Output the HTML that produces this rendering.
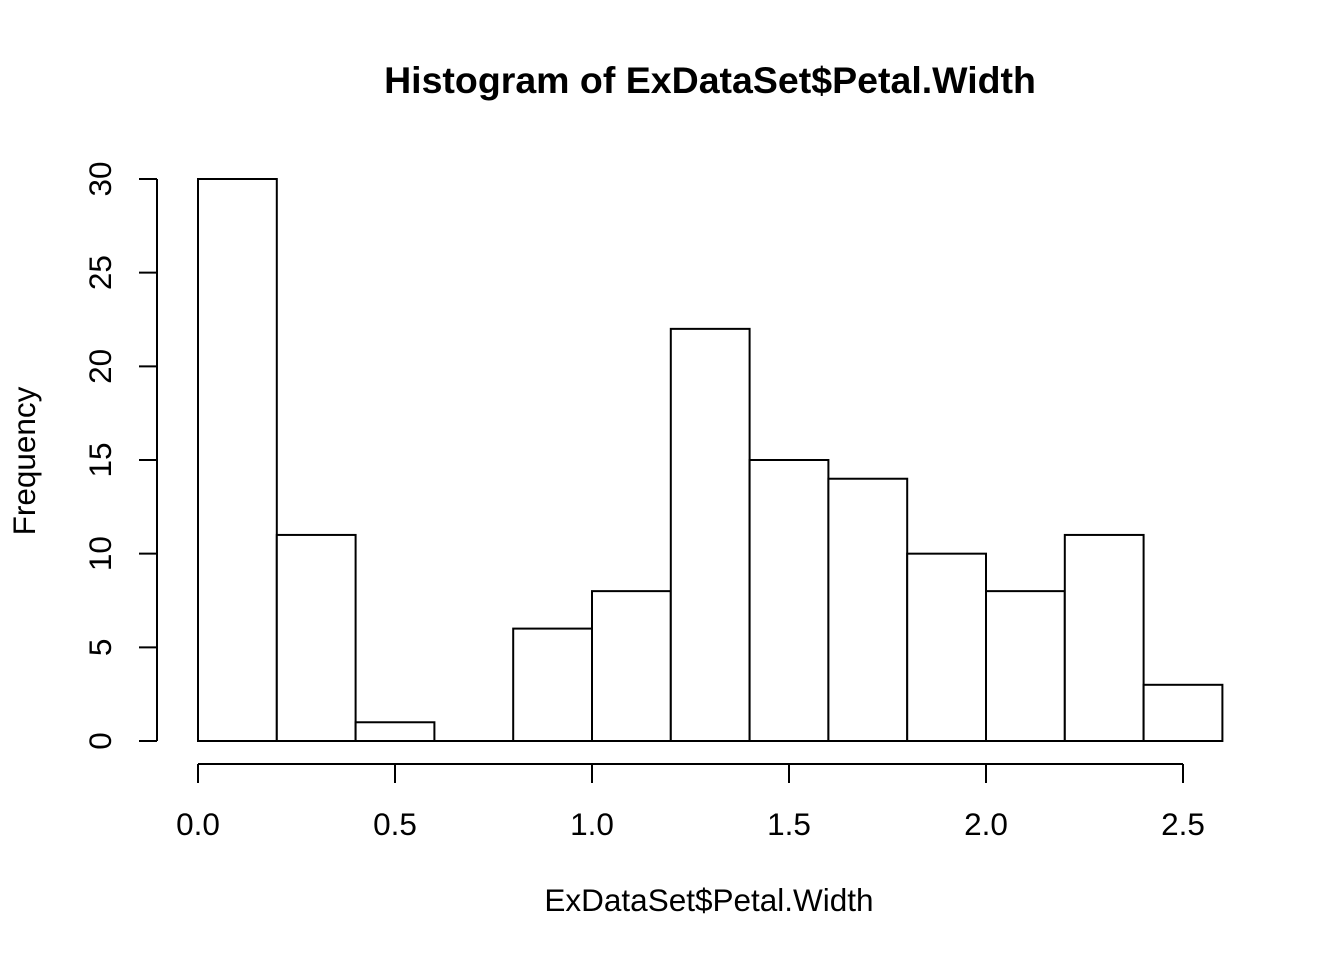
<!DOCTYPE html>
<html><head><meta charset="utf-8"><style>
html,body{margin:0;padding:0;background:#fff;}
svg{display:block;font-family:"Liberation Sans",Arial,sans-serif;}
</style></head><body>
<svg id="chart" width="1344" height="960" viewBox="0 0 1344 960" xmlns="http://www.w3.org/2000/svg">
<text x="710" y="93" text-anchor="middle" font-size="37.5" font-weight="bold">Histogram of ExDataSet$Petal.Width</text>
<text x="709" y="911" text-anchor="middle" font-size="31.5">ExDataSet$Petal.Width</text>
<text transform="translate(35,461) rotate(-90)" text-anchor="middle" font-size="31.5">Frequency</text>
<g id="bars"></g>
<g id="xaxis"></g>
<g id="yaxis"></g>
</svg>
<script>
const binStarts = [0.0,0.2,0.4,0.6,0.8,1.0,1.2,1.4,1.6,1.8,2.0,2.2,2.4];
const counts = [30,11,1,0,6,8,22,15,14,10,8,11,3];
const binWidth = 0.2;
const xTicks = [0.0,0.5,1.0,1.5,2.0,2.5];
const xTickLabels = ["0.0","0.5","1.0","1.5","2.0","2.5"];
const yTicks = [0,5,10,15,20,25,30];
const yTickLabels = ["0","5","10","15","20","25","30"];

const NS = "http://www.w3.org/2000/svg";
function xs(v){return 198 + v*394;}
function ys(v){return 741 - v*(562/30);}
function mk(tag, attrs, parent){
  const e=document.createElementNS(NS,tag);
  for(const k in attrs) e.setAttribute(k,attrs[k]);
  parent.appendChild(e); return e;
}
const bars=document.getElementById('bars');
binStarts.forEach((b,i)=>{
  const x0=xs(b), x1=xs(b+binWidth), y=ys(counts[i]);
  if(counts[i]===0){
    const l=mk('line',{x1:x0,x2:x1,y1:ys(0),y2:ys(0),stroke:'#000','stroke-width':2},bars);
    
    
    return;
  }
  const r=mk('rect',{x:x0,y:y,width:x1-x0,height:ys(0)-y,fill:'#fff',stroke:'#000','stroke-width':2},bars);
  
  
});
const xa=document.getElementById('xaxis');
mk('line',{x1:xs(xTicks[0]),x2:xs(xTicks[xTicks.length-1]),y1:764,y2:764,stroke:'#000','stroke-width':2},xa);
xTicks.forEach((t,i)=>{
  mk('line',{x1:xs(t),x2:xs(t),y1:764,y2:783,stroke:'#000','stroke-width':2},xa);
  const tx=mk('text',{x:xs(t),y:835,'text-anchor':'middle','font-size':31.5},xa);
  tx.textContent=xTickLabels[i];
  
  
});
const ya=document.getElementById('yaxis');
mk('line',{x1:157,x2:157,y1:ys(yTicks[0]),y2:ys(yTicks[yTicks.length-1]),stroke:'#000','stroke-width':2},ya);
yTicks.forEach((t,i)=>{
  mk('line',{x1:139,x2:157,y1:ys(t),y2:ys(t),stroke:'#000','stroke-width':2},ya);
  const tx=mk('text',{transform:'translate(111,'+ys(t)+') rotate(-90)','text-anchor':'middle','font-size':31.5},ya);
  tx.textContent=yTickLabels[i];
  
  
});
</script>
</body></html>
